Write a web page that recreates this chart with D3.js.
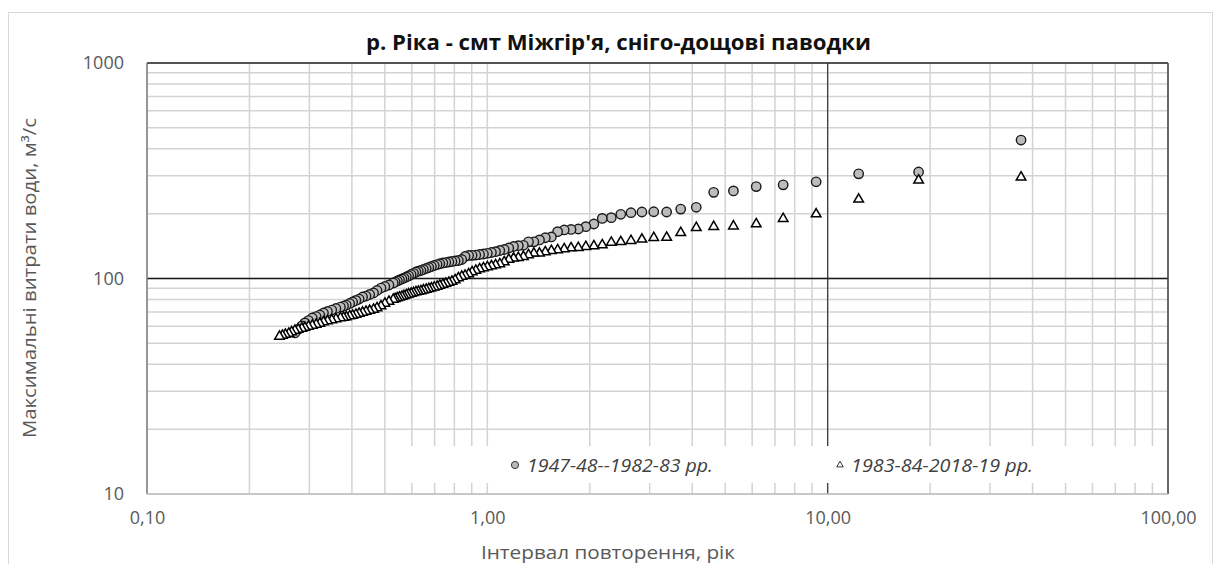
<!DOCTYPE html>
<html>
<head>
<meta charset="utf-8">
<script src="https://cdnjs.cloudflare.com/ajax/libs/d3/7.8.5/d3.min.js"></script>
<style>
body { margin: 0; background: #fff; }
svg text { font-family: "Open Sans", sans-serif; }
</style>
</head>
<body>
<svg id="chart" width="1221" height="564"></svg>
<script>
// Frequency curve - max discharge vs return interval, two periods (log-log)
const chartTitle = "р. Ріка - смт Міжгір'я, сніго-дощові паводки";
const xTitle = "Інтервал повторення, рік";
const yTitle = "Максимальні витрати води, м³/с";
const seriesNames = ["1947-48--1982-83 рр.", "1983-84-2018-19 рр."];

const xTickValues = [0.1, 1, 10, 100];
const xTickLabels = ["0,10", "1,00", "10,00", "100,00"];
const yTickValues = [10, 100, 1000];
const yTickLabels = ["10", "100", "1000"];

// series 1: 1947-48 .. 1982-83 (circles)
const circleT = [37, 18.5, 12.333, 9.25, 7.4, 6.167, 5.286, 4.625, 4.111, 3.7,
  3.364, 3.083, 2.846, 2.643, 2.467, 2.313, 2.176, 2.056, 1.947, 1.85,
  1.762, 1.682, 1.609, 1.542, 1.48, 1.423, 1.37, 1.321, 1.276, 1.233,
  1.194, 1.156, 1.121, 1.088, 1.057, 1.028, 1.0, 0.974, 0.949, 0.925,
  0.902, 0.881, 0.86, 0.841, 0.822, 0.804, 0.787, 0.771, 0.755, 0.74,
  0.725, 0.712, 0.698, 0.685, 0.673, 0.661, 0.649, 0.638, 0.627, 0.617,
  0.607, 0.597, 0.587, 0.578, 0.569, 0.561, 0.552, 0.544, 0.536, 0.529,
  0.514, 0.5, 0.487, 0.474, 0.463, 0.451, 0.44, 0.43, 0.42, 0.411,
  0.402, 0.394, 0.385, 0.378, 0.37, 0.359, 0.349, 0.339, 0.33, 0.322,
  0.314, 0.306, 0.298, 0.291, 0.285, 0.278, 0.272];
const circleQ = [439, 312, 306, 281, 272, 267, 255, 251, 214, 210,
  203.5, 204, 203.5, 202, 198.6, 191.6, 190, 179, 174, 169.7,
  169, 168, 165, 156, 154.6, 151, 148, 148, 142.6, 142,
  140.8, 138.5, 136.3, 134.9, 133.2, 132, 130.9, 129.9, 129.2, 128.5,
  128.1, 127.9, 126.5, 122.5, 121.2, 120.6, 119.9, 119.3, 118.6, 118,
  117.1, 116.1, 114.9, 113.7, 112.5, 111.3, 110.1, 108.9, 108.1, 107.2,
  105.7, 104.4, 102.9, 101.6, 100.5, 99.5, 98.4, 97.4, 96.3, 95.3,
  93.3, 91.8, 90.3, 88, 85.7, 84.3, 82.9, 82.1, 80.3, 79.1,
  77.8, 76.6, 75.3, 74.5, 73.7, 72.6, 71.4, 70.3, 69.2, 67.7,
  66.6, 65.6, 63.8, 62.2, 60.2, 58, 55.9];

// series 2: 1983-84 .. 2018-19 (triangles)
const triT = [37, 18.5, 12.333, 9.25, 7.4, 6.167, 5.286, 4.625, 4.111, 3.7,
  3.364, 3.083, 2.846, 2.643, 2.467, 2.313, 2.176, 2.056, 1.947, 1.85,
  1.762, 1.682, 1.609, 1.542, 1.48, 1.423, 1.37, 1.321, 1.276, 1.233,
  1.194, 1.156, 1.121, 1.088, 1.057, 1.028, 1.0, 0.974, 0.949, 0.925,
  0.902, 0.881, 0.86, 0.841, 0.822, 0.804, 0.787, 0.771, 0.755, 0.74,
  0.725, 0.712, 0.698, 0.685, 0.673, 0.661, 0.649, 0.638, 0.627, 0.617,
  0.607, 0.597, 0.587, 0.578, 0.569, 0.561, 0.552, 0.544, 0.536, 0.529,
  0.514, 0.5, 0.487, 0.474, 0.463, 0.451, 0.44, 0.43, 0.42, 0.411,
  0.402, 0.394, 0.385, 0.378, 0.37, 0.359, 0.349, 0.339, 0.33, 0.322,
  0.314, 0.306, 0.298, 0.291, 0.285, 0.278, 0.272, 0.266, 0.261, 0.255,
  0.25, 0.245];
const triQ = [295, 285.6, 233, 199, 189.5, 179, 175, 174, 172, 163,
  155, 154.6, 152, 149.8, 148, 147, 143, 141.5, 140.5, 139,
  138.5, 137, 135.6, 134.5, 132.7, 130.9, 130.9, 128.5, 126.3, 124.9,
  124.1, 122.5, 119.3, 116.8, 115.5, 114.3, 113.1, 111.9, 110.7, 108.9,
  107.2, 104.9, 103.3, 102.2, 100.5, 98.4, 96.8, 95.8, 94.8, 93.8,
  92.8, 91.8, 91.1, 90.3, 89.6, 88.9, 88.3, 87.5, 87, 86.6,
  85.8, 85.2, 84.6, 83.8, 83.1, 82.5, 81.9, 81.2, 80.5, 79.9,
  78.2, 76.6, 74.5, 73, 71.8, 71, 70.3, 69.6, 68.8, 68.1,
  67.4, 67, 66.3, 65.9, 65.6, 64.9, 64.2, 63.5, 62.8, 61.8,
  61.2, 60.5, 59.9, 59.2, 58.6, 58, 57.4, 56.5, 55.6, 55,
  54.4, 53.8];

const margin = { top: 63, right: 53, bottom: 70, left: 147 };
const W = 1221, H = 564;

const svg = d3.select("#chart");

// outer chart frame
svg.append("rect")
    .attr("x", 8.5).attr("y", 12.5)
    .attr("width", 1204).attr("height", 570)
    .attr("fill", "#fff")
    .attr("stroke", "#d9d9d9");

const x = d3.scaleLog().domain([0.1, 100]).range([margin.left, W - margin.right]);
const y = d3.scaleLog().domain([10, 1000]).range([H - margin.bottom, margin.top]);

// minor gridlines
const grid = svg.append("g").attr("stroke", "#d3d3d3").attr("stroke-width", 1.5);
grid.selectAll(".gx").data(x.ticks()).join("line")
    .attr("x1", d => x(d)).attr("x2", d => x(d))
    .attr("y1", y(10)).attr("y2", y(1000));
grid.selectAll(".gy").data(y.ticks()).join("line")
    .attr("x1", x(0.1)).attr("x2", x(100))
    .attr("y1", d => y(d)).attr("y2", d => y(d));

// darker lines at 10 (x) and 100 (y)
svg.append("line")
    .attr("x1", x(10)).attr("x2", x(10)).attr("y1", y(10)).attr("y2", y(1000))
    .attr("stroke", "#404040").attr("stroke-width", 1.3);
svg.append("line")
    .attr("x1", x(0.1)).attr("x2", x(100)).attr("y1", y(100)).attr("y2", y(100))
    .attr("stroke", "#1a1a1a").attr("stroke-width", 1.3);

// legend box covers the grid
svg.append("rect")
    .attr("x", 398).attr("y", 446)
    .attr("width", 767).attr("height", 37)
    .attr("fill", "#fff");

// plot frame
svg.append("line")
    .attr("x1", x(0.1)).attr("x2", x(100)).attr("y1", y(1000)).attr("y2", y(1000))
    .attr("stroke", "#262626").attr("stroke-width", 1.5);
svg.append("line")
    .attr("x1", x(100)).attr("x2", x(100)).attr("y1", y(10)).attr("y2", y(1000))
    .attr("stroke", "#404040").attr("stroke-width", 1.5);
svg.append("line")
    .attr("x1", x(0.1)).attr("x2", x(0.1)).attr("y1", y(10)).attr("y2", y(1000))
    .attr("stroke", "#7f7f7f").attr("stroke-width", 1.5);
svg.append("line")
    .attr("x1", x(0.1)).attr("x2", x(100)).attr("y1", y(10)).attr("y2", y(10))
    .attr("stroke", "#bfbfbf").attr("stroke-width", 1.5);

// axes labels
const xAxis = svg.append("g")
    .attr("transform", `translate(0,${y(10) + 14})`)
    .call(d3.axisBottom(x).tickValues(xTickValues)
        .tickFormat((d, i) => xTickLabels[i]).tickSize(0));
xAxis.select(".domain").remove();
xAxis.selectAll("text")
    .attr("font-family", "Open Sans").attr("font-size", 18)
    .attr("fill", "#595959").attr("dy", "0.71em");

const yAxis = svg.append("g")
    .attr("transform", `translate(${x(0.1) - 20},0)`)
    .call(d3.axisLeft(y).tickValues(yTickValues)
        .tickFormat((d, i) => yTickLabels[i]).tickSize(0));
yAxis.select(".domain").remove();
yAxis.selectAll("text")
    .attr("font-family", "Open Sans").attr("font-size", 18)
    .attr("fill", "#595959");

// data points
const pts1 = d3.zip(circleT, circleQ);
const pts2 = d3.zip(triT, triQ);

svg.append("g").selectAll("circle").data(pts1).join("circle")
    .attr("cx", d => x(d[0]))
    .attr("cy", d => y(d[1]))
    .attr("r", 4.7)
    .attr("fill", "#bcbcbc")
    .attr("stroke", "#1a1a1a")
    .attr("stroke-width", 1.4);

const tri = d3.symbol(d3.symbolTriangle, 40);
svg.append("g").selectAll("path").data(pts2).join("path")
    .attr("d", tri)
    .attr("transform", d => `translate(${x(d[0])},${y(d[1])})`)
    .attr("fill", "#fff")
    .attr("stroke", "#000")
    .attr("stroke-width", 1.5);

// legend
svg.append("circle")
    .attr("cx", 515).attr("cy", 465).attr("r", 3.6)
    .attr("fill", "#b9b9b9").attr("stroke", "#333").attr("stroke-width", 1);
svg.append("text")
    .attr("x", 527).attr("y", 471.5)
    .attr("font-size", 18).attr("font-style", "italic")
    .attr("fill", "#404040")
    .attr("textLength", 186).attr("lengthAdjust", "spacingAndGlyphs")
    .text(seriesNames[0]);
svg.append("path")
    .attr("d", d3.symbol(d3.symbolTriangle, 18)())
    .attr("transform", "translate(840,465)")
    .attr("fill", "#fff").attr("stroke", "#333").attr("stroke-width", 1);
svg.append("text")
    .attr("x", 851).attr("y", 471.5)
    .attr("font-size", 18).attr("font-style", "italic")
    .attr("fill", "#404040")
    .attr("textLength", 182).attr("lengthAdjust", "spacingAndGlyphs")
    .text(seriesNames[1]);

// titles
svg.append("text")
    .attr("x", 366).attr("y", 50)
    .attr("font-size", 22).attr("font-weight", "bold")
    .attr("fill", "#111")
    .attr("textLength", 505).attr("lengthAdjust", "spacingAndGlyphs")
    .text(chartTitle);

svg.append("text")
    .attr("x", 481).attr("y", 559)
    .attr("font-size", 18)
    .attr("fill", "#595959")
    .attr("textLength", 254).attr("lengthAdjust", "spacingAndGlyphs")
    .text(xTitle);

svg.append("text")
    .attr("transform", "translate(36,278) rotate(-90)")
    .attr("text-anchor", "middle")
    .attr("font-size", 18)
    .attr("fill", "#595959")
    .attr("textLength", 320).attr("lengthAdjust", "spacingAndGlyphs")
    .text(yTitle);
</script>
</body>
</html>
